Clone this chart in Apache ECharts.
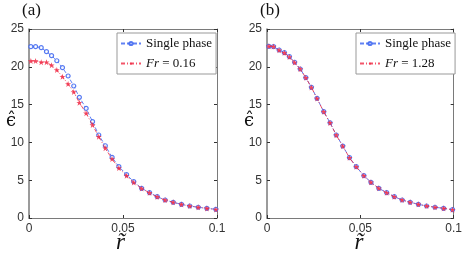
<!DOCTYPE html>
<html><head><meta charset="utf-8">
<script src="https://cdn.jsdelivr.net/npm/echarts@6/dist/echarts.min.js"></script>
<style>html,body{margin:0;padding:0;background:#fff}#c{width:465px;height:260px}</style>
</head><body><div id="c"></div>
<script>
const rGrid = [0.0010, 0.0035, 0.0065, 0.0093, 0.0120, 0.0148, 0.0178, 0.0208, 0.0238, 0.0268, 0.0304, 0.0338, 0.0371, 0.0406, 0.0442, 0.0478, 0.0519, 0.0557, 0.0599, 0.0641, 0.0682, 0.0724, 0.0767, 0.0811, 0.0855, 0.0900, 0.0946, 0.0994];
const singleA = [22.66, 22.66, 22.53, 22.0, 21.47, 20.8, 19.88, 18.78, 17.46, 15.96, 14.5, 12.74, 10.98, 9.56, 8.03, 6.79, 5.75, 4.8, 3.93, 3.35, 2.82, 2.38, 2.08, 1.81, 1.59, 1.42, 1.28, 1.15];
const frA = [20.77, 20.77, 20.6, 20.6, 20.2, 19.58, 18.69, 17.72, 16.67, 15.25, 13.85, 12.3, 10.75, 9.22, 7.8, 6.6, 5.6, 4.7, 3.9, 3.33, 2.8, 2.37, 2.07, 1.8, 1.58, 1.41, 1.27, 1.12];
const singleB = [22.7, 22.66, 22.22, 21.87, 21.34, 20.6, 19.71, 18.56, 17.29, 15.83, 14.06, 12.6, 10.98, 9.52, 7.98, 6.79, 5.6, 4.72, 3.93, 3.35, 2.82, 2.38, 2.08, 1.81, 1.59, 1.42, 1.28, 1.1];
const frB = [22.72, 22.68, 22.2, 21.85, 21.3, 20.58, 19.7, 18.55, 17.27, 15.8, 14.05, 12.58, 10.96, 9.5, 7.97, 6.78, 5.6, 4.72, 3.93, 3.35, 2.82, 2.38, 2.08, 1.81, 1.59, 1.42, 1.28, 1.1];
const xTicks = [0, 0.05, 0.1];
const yTicks = [0, 5, 10, 15, 20, 25];
const panelLabels = ['(a)', '(b)'];
const frLabels = ['0.16', '1.28'];

const pair = (xs, ys) => xs.map((x, i) => [x, ys[i]]);
const BLUE = '#3a63f0', RED = '#f02a45', AX = '#7a7a7a';
const star = 'path://M5,0 L6.2,3.4 L10,3.4 L7,5.6 L8.1,9.2 L5,7 L1.9,9.2 L3,5.6 L0,3.4 L3.8,3.4 Z';
const grids = [
  {left: 29, top: 29, width: 188, height: 189},
  {left: 267, top: 29, width: 189, height: 189}
];
const xAxes = [], yAxes = [], series = [], legends = [], graphics = [];
grids.forEach((g, gi) => {
  xAxes.push({gridIndex: gi, type: 'value', min: 0, max: 0.1, interval: 0.05,
    axisLine: {onZero: false, lineStyle: {color: AX, width: 1}},
    axisTick: {inside: true, length: 3, lineStyle: {color: '#333'}},
    axisLabel: {color: '#333', fontSize: 12, fontFamily: 'Liberation Sans', margin: 5,
      formatter: v => xTicks.includes(+v.toFixed(3)) ? String(+v.toFixed(3)) : ''},
    splitLine: {show: false}});
  xAxes.push({gridIndex: gi, type: 'value', position: 'top', min: 0, max: 0.1, interval: 0.05,
    axisLine: {onZero: false, lineStyle: {color: AX}}, axisTick: {inside: true, length: 3, lineStyle: {color: '#333'}},
    axisLabel: {show: false}, splitLine: {show: false}});
  yAxes.push({gridIndex: gi, type: 'value', min: 0, max: 25, interval: 5,
    axisLine: {show: true, onZero: false, lineStyle: {color: AX, width: 1.5}},
    axisTick: {show: true, inside: true, length: 3, lineStyle: {color: '#333'}},
    axisLabel: {color: '#333', fontSize: 12, fontFamily: 'Liberation Sans', margin: 5,
      formatter: v => yTicks.includes(v) ? String(v) : ''},
    splitLine: {show: false}});
  yAxes.push({gridIndex: gi, type: 'value', position: 'right', min: 0, max: 25, interval: 5,
    axisLine: {show: true, onZero: false, lineStyle: {color: AX}},
    axisTick: {show: true, inside: true, length: 3, lineStyle: {color: '#333'}},
    axisLabel: {show: false}, splitLine: {show: false}});
  const sData = gi === 0 ? singleA : singleB;
  const fData = gi === 0 ? frA : frB;
  const fName = 'Fr' + gi;
  series.push({name: 'Single phase' + gi, type: 'line', xAxisIndex: gi * 2, yAxisIndex: gi * 2,
    data: pair(rGrid, sData), symbol: 'circle', symbolSize: 4, showSymbol: true,
    lineStyle: {color: BLUE, width: 1, type: [4, 2], opacity: 0.8},
    itemStyle: {color: '#fff', borderColor: BLUE, borderWidth: 1.2, opacity: 0.85},
    z: 2, animation: false});
  series.push({name: fName, type: 'line', xAxisIndex: gi * 2, yAxisIndex: gi * 2,
    data: pair(rGrid, fData), symbol: star, symbolSize: 6, showSymbol: true,
    lineStyle: {color: RED, width: 1, type: [4, 2, 1, 2], opacity: 0.8},
    itemStyle: {color: RED, opacity: 0.85},
    z: 3, animation: false});
  legends.push({
    data: ['Single phase' + gi, fName], orient: 'vertical',
    left: gi === 0 ? 117 : 356, top: 33, width: 95,
    itemWidth: 20, itemHeight: 4, itemGap: 7, padding: [4, 4, 4, 3],
    borderColor: '#999', borderWidth: 1, backgroundColor: '#fff', selectedMode: false,
    textStyle: {fontFamily: 'Liberation Serif', fontSize: 13, color: '#111',
      rich: {it: {fontFamily: 'Liberation Serif', fontStyle: 'italic', fontSize: 13, color: '#111'},
             n: {fontFamily: 'Liberation Serif', fontSize: 13, color: '#111'}}},
    formatter: name => name.startsWith('Single') ? 'Single phase' : '{it|Fr} {n|= ' + frLabels[gi] + '}'
  });
  const gx = g.left;
  graphics.push({type: 'text', left: gx - 7, top: 2, style: {text: panelLabels[gi], font: '17px "Liberation Serif"', fill: '#111'}});
  graphics.push({type: 'text', left: gx - 23, top: 112, style: {text: 'ϵ\u0302', font: '18px "DejaVu Serif"', fill: '#111'}});
  graphics.push({type: 'text', left: gx + g.width / 2 - 7, top: 231, style: {text: 'r\u0303', font: 'italic 23px "Liberation Serif"', fill: '#111'}});
});
const chart = echarts.init(document.getElementById('c'), null, {renderer: 'canvas'});
chart.setOption({
  animation: false, backgroundColor: '#fff',
  grid: grids, xAxis: xAxes, yAxis: yAxes, series: series, legend: legends, graphic: graphics
});
</script></body></html>
